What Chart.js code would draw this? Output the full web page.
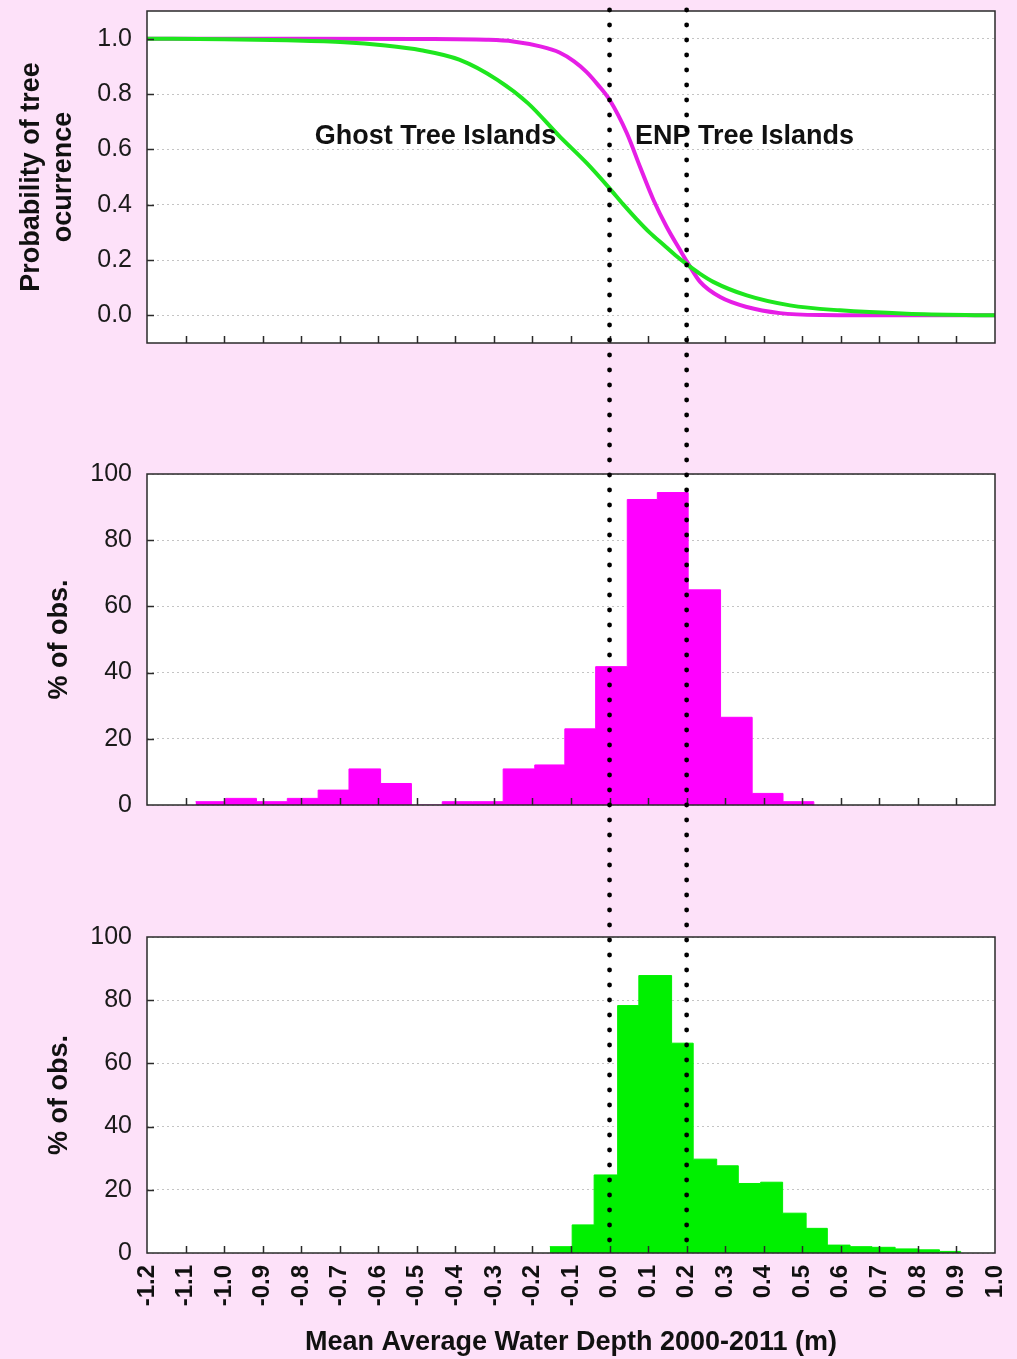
<!DOCTYPE html>
<html>
<head>
<meta charset="utf-8">
<script src="https://cdn.jsdelivr.net/npm/chart.js@4.4.1/dist/chart.umd.min.js"></script>
<style>
  html, body { margin: 0; padding: 0; background: #fde1f9; }
  #wrap { position: relative; width: 1017px; height: 1359px; overflow: hidden; }
  canvas { position: absolute; left: 0; }
</style>
</head>
<body>
<div id="wrap">
  <canvas id="probChart" width="1017" height="408" style="top:0px"></canvas>
  <canvas id="enpChart" width="1017" height="462" style="top:408px"></canvas>
  <canvas id="ghostChart" width="1017" height="489" style="top:870px"></canvas>
</div>
<script>
// tick labels
const depthTicks = [-1.2, -1.1, -1.0, -0.9, -0.8, -0.7, -0.6, -0.5, -0.4, -0.3, -0.2, -0.1,
                    0.0, 0.1, 0.2, 0.3, 0.4, 0.5, 0.6, 0.7, 0.8, 0.9, 1.0];
const probTicks = [0.0, 0.2, 0.4, 0.6, 0.8, 1.0];
const pctTicks = [0, 20, 40, 60, 80, 100];
const depthMarks = [0.0, 0.2]; // vertical dotted lines

// probability curves
const ghostCurveDepth = [-1.2, -1.0, -0.837, -0.688, -0.588, -0.489, -0.39, -0.291, -0.212, -0.129,
                         -0.059, 0.0, 0.035, 0.07, 0.105, 0.14, 0.17, 0.2, 0.235, 0.269, 0.356,
                         0.468, 0.598, 0.771, 1.0];
const ghostCurveProb = [1.0, 0.998, 0.994, 0.987, 0.976, 0.958, 0.924, 0.851, 0.767, 0.646,
                        0.55, 0.459, 0.402, 0.348, 0.298, 0.255, 0.218, 0.185, 0.15, 0.121, 0.072,
                        0.036, 0.018, 0.006, 0.0];
const enpCurveDepth = [-1.2, -0.8, -0.5, -0.32, -0.25, -0.18, -0.13, -0.092, -0.06, -0.03, 0.0,
                       0.045, 0.079, 0.114, 0.148, 0.183, 0.204, 0.235, 0.287, 0.356, 0.442,
                       0.55, 0.7, 1.0];
const enpCurveProb = [1.0, 1.0, 0.999, 0.996, 0.99, 0.972, 0.95, 0.918, 0.88, 0.833, 0.779,
                      0.658, 0.537, 0.417, 0.32, 0.236, 0.187, 0.121, 0.066, 0.03, 0.008,
                      0.001, 0.0, 0.0];

// histograms: bin edges and % of obs.
const enpBinEdges = [-1.074, -0.996, -0.916, -0.836, -0.756, -0.676, -0.594, -0.514, -0.434, -0.356,
                     -0.276, -0.194, -0.116, -0.036, 0.046, 0.124, 0.204, 0.288, 0.370, 0.450, 0.530];
const enpPct = [1.0, 2.0, 1.0, 2.0, 4.5, 10.9, 6.5, 0, 1.0, 1.0,
                10.9, 12.1, 23.0, 41.8, 92.3, 94.4, 65.0, 26.5, 3.5, 1.0];
const ghostBinEdges = [-0.155, -0.097, -0.040, 0.021, 0.076, 0.161, 0.217, 0.278, 0.334, 0.392,
                       0.449, 0.510, 0.565, 0.624, 0.681, 0.741, 0.800, 0.856, 0.911];
const ghostPct = [2.0, 8.9, 24.7, 78.3, 87.8, 66.4, 29.7, 27.6, 22.0, 22.4,
                  12.6, 7.8, 2.5, 2.0, 1.8, 1.3, 1.0, 0.5];

Chart.defaults.font.family = "'Liberation Sans', Arial, sans-serif";
Chart.defaults.color = '#111';

const xy = (xs, ys) => xs.map((v, i) => ({ x: v, y: ys[i] }));
const stepPoints = (edges, vals) => edges.map((e, i) => ({ x: e, y: i < vals.length ? vals[i] : 0 }));

// white plot area, frame, inward ticks, annotations, dotted depth lines
const framePlugin = {
  id: 'frame',
  beforeDraw(chart) {
    const { ctx, chartArea: a } = chart;
    ctx.save();
    ctx.fillStyle = '#fff';
    ctx.fillRect(a.left, a.top, a.width, a.height);
    ctx.restore();
  },
  afterDatasetsDraw(chart, args, opts) {
    const { ctx, chartArea: a, scales: { x, y } } = chart;
    ctx.save();
    (opts.notes || []).forEach(n => {
      ctx.font = "bold 27px 'Liberation Sans', Arial, sans-serif";
      ctx.fillStyle = '#111';
      ctx.textAlign = 'center';
      ctx.textBaseline = 'middle';
      ctx.fillText(n.text, x.getPixelForValue(n.x), y.getPixelForValue(n.y));
    });

    ctx.strokeStyle = '#2a2a2a';
    ctx.lineWidth = 1.5;
    ctx.strokeRect(a.left, a.top, a.width, a.height);
    ctx.beginPath();
    depthTicks.slice(1, -1).forEach(v => {
      const px = Math.round(x.getPixelForValue(v)) + 0.5;
      ctx.moveTo(px, a.bottom);
      ctx.lineTo(px, a.bottom - 7);
    });
    y.ticks.forEach(t => {
      const py = Math.round(y.getPixelForValue(t.value)) + 0.5;
      if (py > a.top + 2 && py < a.bottom - 2) {
        ctx.moveTo(a.left, py);
        ctx.lineTo(a.left + 7, py);
      }
    });
    ctx.stroke();

    const from = opts.dotsFromTop ? 0 : a.top - 2;
    const to = opts.dotsToBottom ? chart.height : a.bottom;
    const off = opts.canvasTop;
    ctx.fillStyle = '#000';
    depthMarks.forEach(v => {
      const px = x.getPixelForValue(v);
      for (let gy = Math.ceil((off + from - 10) / 15) * 15 + 10; gy <= off + to; gy += 15) {
        ctx.beginPath();
        ctx.arc(px, gy - off, 2.4, 0, Math.PI * 2);
        ctx.fill();
      }
    });
    ctx.restore();
  }
};

function depthScale(show) {
  const s = {
    type: 'linear', min: -1.2, max: 1.0, display: show,
    afterBuildTicks: sc => { sc.ticks = depthTicks.map(v => ({ value: v })); },
    grid: { display: false, drawTicks: false },
    border: { display: false },
    ticks: {
      autoSkip: false, maxRotation: 90, minRotation: 90, padding: 12, color: '#111',
      font: { size: 24, weight: 'bold' },
      callback: v => (Math.abs(v) < 1e-9 ? 0 : Number(v)).toFixed(1)
    },
    title: {
      display: show, text: 'Mean Average Water Depth 2000-2011 (m)', color: '#111',
      font: { size: 27, weight: 'bold' }, padding: { top: 0, bottom: 0 }
    }
  };
  if (show) {
    s.afterFit = sc => { sc.height = 106; sc.paddingLeft = 0; sc.paddingRight = 0; };
  }
  return s;
}

function valueScale(min, max, tickVals, fmt, titleText, titlePad) {
  return {
    type: 'linear', min: min, max: max,
    afterBuildTicks: sc => { sc.ticks = tickVals.map(v => ({ value: v })); },
    afterFit: sc => { sc.width = 147; sc.paddingTop = 0; sc.paddingBottom = 0; },
    grid: { color: '#c4c4c4', lineWidth: 1, drawTicks: false },
    border: { display: false, dash: [2, 3] },
    ticks: { padding: 15, color: '#1a1a1a', font: { size: 25 }, callback: fmt },
    title: {
      display: true, text: titleText, color: '#111',
      font: { size: 27, weight: 'bold', lineHeight: 1.2 }, padding: { top: titlePad, bottom: 0 }
    }
  };
}

const baseOpts = (pad, frame, scales) => ({
  responsive: false, animation: false,
  layout: { padding: pad },
  plugins: { legend: { display: false }, tooltip: { enabled: false }, frame: frame },
  scales: scales
});

new Chart(document.getElementById('probChart'), {
  type: 'line',
  data: {
    datasets: [
      { data: xy(ghostCurveDepth, ghostCurveProb), borderColor: '#1ee61e', borderWidth: 4,
        pointRadius: 0, tension: 0.4, cubicInterpolationMode: 'monotone' },
      { data: xy(enpCurveDepth, enpCurveProb), borderColor: '#e61ee6', borderWidth: 4,
        pointRadius: 0, tension: 0.4, cubicInterpolationMode: 'monotone' }
    ]
  },
  options: baseOpts({ left: 0, right: 22, top: 11, bottom: 65 },
    { canvasTop: 0, dotsFromTop: false, dotsToBottom: true,
      notes: [{ text: 'Ghost Tree Islands', x: -0.4515, y: 0.645 },
              { text: 'ENP Tree Islands', x: 0.35, y: 0.645 }] },
    { x: depthScale(false),
      y: valueScale(-0.1, 1.1, probTicks, v => Number(v).toFixed(1), ['Probability of tree', 'ocurrence'], 15) }),
  plugins: [framePlugin]
});

new Chart(document.getElementById('enpChart'), {
  type: 'line',
  data: {
    datasets: [{ data: stepPoints(enpBinEdges, enpPct), stepped: true, fill: 'origin',
      backgroundColor: '#ff00ff', borderColor: '#ff00ff', borderWidth: 1, pointRadius: 0 }]
  },
  options: baseOpts({ left: 0, right: 22, top: 66, bottom: 65 },
    { canvasTop: 408, dotsFromTop: true, dotsToBottom: true },
    { x: depthScale(false),
      y: valueScale(0, 100, pctTicks, v => String(Math.round(v)), '% of obs.', 43) }),
  plugins: [framePlugin]
});

new Chart(document.getElementById('ghostChart'), {
  type: 'line',
  data: {
    datasets: [{ data: stepPoints(ghostBinEdges, ghostPct), stepped: true, fill: 'origin',
      backgroundColor: '#00f000', borderColor: '#00f000', borderWidth: 1, pointRadius: 0 }]
  },
  options: baseOpts({ left: 0, right: 22, top: 67, bottom: 0 },
    { canvasTop: 870, dotsFromTop: true, dotsToBottom: false },
    { x: depthScale(true),
      y: valueScale(0, 100, pctTicks, v => String(Math.round(v)), '% of obs.', 43) }),
  plugins: [framePlugin]
});
</script>
</body>
</html>
